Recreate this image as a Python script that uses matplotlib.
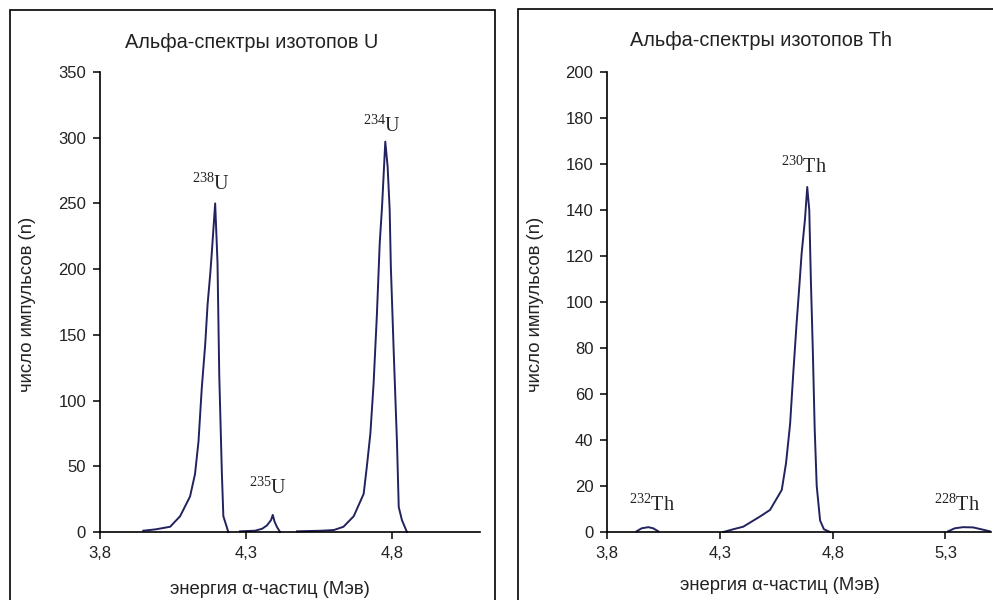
import matplotlib
matplotlib.use("Agg")
import matplotlib.pyplot as plt
from matplotlib.patches import Rectangle
from matplotlib.ticker import FixedLocator, FixedFormatter

plt.rcParams['font.family'] = ['Liberation Sans', 'DejaVu Sans']
plt.rcParams['mathtext.fontset'] = 'custom'
plt.rcParams['mathtext.rm'] = 'Liberation Serif'
plt.rcParams['mathtext.default'] = 'rm'

# --- data ---

# uranium spectrum, one list per peak
u238_e = [3.948, 3.99, 4.04, 4.074, 4.108, 4.125, 4.137, 4.148, 4.16, 4.168, 4.177, 4.182, 4.194, 4.202, 4.208, 4.217, 4.222, 4.239]
u238_n = [1, 2, 4, 12, 27, 44, 69, 109, 143, 173, 196, 211, 250, 205, 119, 44, 12, 0]
u235_e = [4.279, 4.331, 4.355, 4.371, 4.385, 4.391, 4.397, 4.405, 4.416]
u235_n = [0.5, 1, 2.5, 5, 9, 13, 8, 4, 0]
u234_e = [4.474, 4.56, 4.60, 4.633, 4.668, 4.702, 4.713, 4.725, 4.736, 4.747, 4.757, 4.765, 4.776, 4.784, 4.791, 4.795, 4.805, 4.816, 4.822, 4.833, 4.85]
u234_n = [0.5, 1, 1.5, 4, 12, 29, 50, 75, 113, 164, 220, 248, 297, 278, 245, 202, 136, 68, 19, 9, 0]

# thorium spectrum
th232_e = [3.93, 3.952, 3.982, 4.004, 4.026]
th232_n = [0.3, 1.6, 2.1, 1.6, 0.3]
th230_e = [4.315, 4.359, 4.403, 4.477, 4.522, 4.574, 4.593, 4.611, 4.625, 4.640, 4.652, 4.662, 4.677, 4.687, 4.696, 4.703, 4.712, 4.72, 4.729, 4.744, 4.761, 4.788]
th230_n = [0, 1.2, 2.3, 6.7, 9.6, 18.3, 30, 47, 69, 91, 107, 121, 136, 150, 140, 110, 78, 45, 20, 5, 1.2, 0]
th228_e = [5.312, 5.341, 5.378, 5.423, 5.467, 5.497]
th228_n = [0.3, 1.6, 2.1, 2.0, 1.0, 0.3]

# peak labels: (text, energy, counts)
u_labels = [(r'$^{238}$U', 4.18, 265), (r'$^{235}$U', 4.375, 33.5), (r'$^{234}$U', 4.765, 309)]
th_labels = [(r'$^{232}$Th', 4.0, 11.6), (r'$^{230}$Th', 4.673, 158.7), (r'$^{228}$Th', 5.35, 11.6)]

u_xticks = [3.8, 4.3, 4.8]
u_xticklabels = ['3,8', '4,3', '4,8']
u_yticks = [0, 50, 100, 150, 200, 250, 300, 350]
th_xticks = [3.8, 4.3, 4.8, 5.3]
th_xticklabels = ['3,8', '4,3', '4,8', '5,3']
th_yticks = [0, 20, 40, 60, 80, 100, 120, 140, 160, 180, 200]

line_color = '#22225e'
W, H = 993, 600

fig = plt.figure(figsize=(W / 100, H / 100), dpi=100)

# chart area frames
fig.patches.append(Rectangle((10 / W, -0.05), 485 / W, 1.05 - 10 / H, transform=fig.transFigure,
                             fill=False, edgecolor='black', lw=1.2))
fig.patches.append(Rectangle((518 / W, -0.05), 500 / W, 1.05 - 9 / H, transform=fig.transFigure,
                             fill=False, edgecolor='black', lw=1.2))


def style_axes(ax, xticks, xticklabels, yticks):
    for side in ['top', 'right']:
        ax.spines[side].set_visible(False)
    for side in ['left', 'bottom']:
        ax.spines[side].set_linewidth(1.2)
    ax.xaxis.set_major_locator(FixedLocator(xticks))
    ax.xaxis.set_major_formatter(FixedFormatter(xticklabels))
    ax.set_yticks(yticks)
    ax.tick_params(direction='out', length=5, width=1.1, labelsize=12, pad=5, labelcolor='#222222')
    ax.patch.set_alpha(0)


ax1 = fig.add_axes([100 / W, 68 / H, 380 / W, 460 / H])
for e, n in [(u238_e, u238_n), (u235_e, u235_n), (u234_e, u234_n)]:
    ax1.plot(e, n, color=line_color, lw=1.4, clip_on=False)
ax1.set_xlim(3.8, 5.1)
ax1.set_ylim(0, 350)
style_axes(ax1, u_xticks, u_xticklabels, u_yticks)
for txt, e, n in u_labels:
    ax1.text(e, n, txt, ha='center', va='center', fontsize=14.5, family='Liberation Serif', color='#222222')

ax2 = fig.add_axes([607.3 / W, 68 / H, 383.2 / W, 460 / H])
for e, n in [(th232_e, th232_n), (th230_e, th230_n), (th228_e, th228_n)]:
    ax2.plot(e, n, color=line_color, lw=1.4, clip_on=False)
ax2.set_xlim(3.8, 5.5)
ax2.set_ylim(0, 200)
style_axes(ax2, th_xticks, th_xticklabels, th_yticks)
for txt, e, n in th_labels:
    ax2.text(e, n, txt, ha='center', va='center', fontsize=14.5, family='Liberation Serif', color='#222222')

# titles and axis labels placed like in the source image
fig.text(252 / W, 1 - 42 / H, 'Альфа-спектры изотопов U', ha='center', va='center', fontsize=14.3, color='#222222')
fig.text(761 / W, 1 - 40 / H, 'Альфа-спектры изотопов Th', ha='center', va='center', fontsize=14.3, color='#222222')
fig.text(28 / W, 1 - 304 / H, 'число импульсов (n)', rotation=90, ha='center', va='center', fontsize=13.3, color='#222222')
fig.text(536 / W, 1 - 304 / H, 'число импульсов (n)', rotation=90, ha='center', va='center', fontsize=13.3, color='#222222')
fig.text(270 / W, 1 - 589 / H, 'энергия α-частиц (Мэв)', ha='center', va='center', fontsize=13.3, color='#222222')
fig.text(780 / W, 1 - 585 / H, 'энергия α-частиц (Мэв)', ha='center', va='center', fontsize=13.3, color='#222222')

fig.savefig('out.png', dpi=100)
